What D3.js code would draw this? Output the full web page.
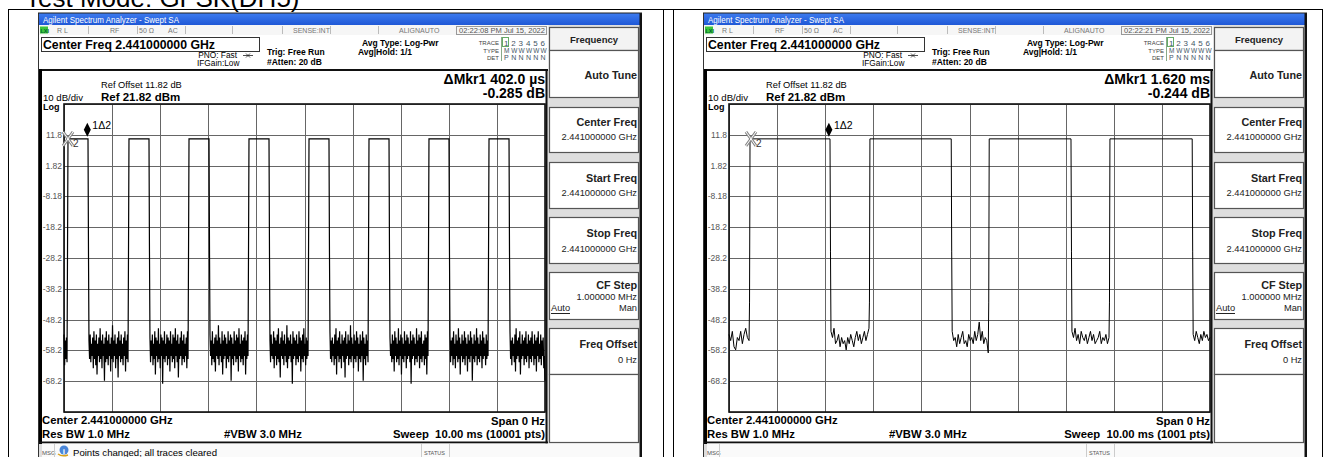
<!DOCTYPE html>
<html>
<head>
<meta charset="utf-8">
<script src="https://cdn.jsdelivr.net/npm/d3@7"></script>
<style>
body { margin: 0; background: #fff; }
svg { display: block; font-family: "Liberation Sans", Arial, sans-serif; }
</style>
</head>
<body>
<svg id="chart" width="1329" height="457"></svg>
<script>
var refLevel = 21.82, bottomLevel = -78.18
var sweepMs = [0, 10]
var xGridMs = [0, 1, 2, 3, 4, 5, 6, 7, 8, 9, 10]
var yGridDbm = [21.82, 11.82, 1.82, -8.18, -18.18, -28.18, -38.18, -48.18, -58.18, -68.18, -78.18]
var yTickValues = [11.82, 1.82, -8.18, -18.18, -28.18, -38.18, -48.18, -58.18, -68.18]
var yTickLabels = ["11.8", "1.82", "-8.18", "-18.2", "-28.2", "-38.2", "-48.2", "-58.2", "-68.2"]

// left screen: 10001 pts, DH5 short bursts
var leftPulseStart = [0.083, 1.351, 2.599, 3.846, 5.094, 6.341, 7.588, 8.836]
var leftPulseEnd   = [0.499, 1.767, 3.015, 4.262, 5.509, 6.757, 8.004, 9.252]
var leftHigh = 10.5
var leftRampUp = -26.2, leftRampDown = -26.2
var leftNoise = [
  [-53, -63, -55, -61, -54, -62],
  [-55, -61, -53, -62, -56, -60, -54, -64, -52, -61, -55, -63, -53, -66, -56, -60, -54, -62, -51, -61, -55, -64, -53, -60, -56, -68, -54, -62, -52, -61, -55, -63,
   -53, -60, -56, -65, -54, -61, -50, -62, -55, -60, -53, -64, -56, -61, -54, -67, -52, -60, -55, -62, -53, -61, -56, -63, -54, -60, -52, -65, -55, -61, -53, -62],
  [-54, -62, -55, -60, -53, -63, -56, -61, -52, -66, -54, -60, -55, -62, -51, -61, -56, -64, -53, -60, -54, -69, -55, -61, -52, -62, -56, -60, -53, -63, -54, -61,
   -55, -65, -52, -60, -56, -62, -53, -61, -54, -64, -51, -60, -55, -62, -53, -67, -56, -61, -54, -60, -52, -63, -55, -61, -53, -62, -56, -60, -54, -64, -52, -61],
  [-53, -60, -55, -63, -52, -61, -56, -62, -54, -65, -53, -60, -55, -61, -50, -63, -54, -60, -56, -62, -52, -66, -55, -61, -53, -60, -54, -64, -56, -61, -52, -62,
   -55, -60, -53, -68, -54, -61, -56, -63, -52, -60, -55, -62, -53, -61, -54, -65, -51, -60, -56, -62, -53, -61, -55, -63, -54, -60, -52, -66, -55, -61, -53, -60],
  [-55, -62, -53, -60, -56, -61, -52, -64, -54, -60, -55, -63, -53, -61, -51, -62, -56, -67, -54, -60, -52, -61, -55, -63, -53, -60, -56, -62, -50, -64, -54, -61,
   -55, -60, -53, -62, -56, -69, -52, -61, -54, -60, -55, -63, -53, -61, -56, -62, -52, -60, -54, -65, -55, -61, -53, -62, -51, -60, -56, -63, -54, -61, -55, -60],
  [-52, -61, -55, -62, -54, -60, -56, -63, -53, -61, -51, -66, -55, -60, -54, -62, -52, -61, -56, -64, -53, -60, -55, -62, -54, -67, -52, -61, -56, -60, -53, -63,
   -55, -61, -50, -62, -54, -60, -56, -64, -53, -61, -55, -62, -52, -60, -54, -65, -56, -61, -53, -62, -55, -60, -52, -68, -54, -61, -56, -63, -53, -60, -55, -62],
  [-54, -60, -56, -62, -53, -61, -55, -65, -52, -60, -54, -62, -56, -61, -51, -63, -55, -60, -53, -66, -54, -61, -56, -62, -52, -60, -55, -64, -53, -61, -54, -60,
   -56, -62, -52, -69, -55, -61, -53, -60, -54, -63, -56, -61, -51, -62, -55, -60, -53, -64, -54, -61, -52, -62, -56, -60, -55, -63, -53, -61, -54, -66, -52, -60],
  [-53, -62, -55, -60, -54, -63, -52, -61, -56, -64, -53, -60, -55, -62, -51, -61, -54, -66, -56, -60, -53, -62, -55, -61, -52, -63, -54, -60, -56, -65, -53, -61,
   -55, -62, -52, -60, -54, -68, -56, -61, -53, -62, -55, -60, -51, -63, -54, -61, -56, -62, -53, -60, -55, -64, -52, -61, -54, -60, -56, -63, -53, -61, -55, -60],
  [-52, -61, -55, -63, -54, -60, -56, -62, -53, -65, -51, -61, -55, -60, -54, -62, -52, -66, -56, -61, -53, -60, -55, -63, -54, -61, -52, -62, -56, -60,
   -53, -64, -55, -61, -54, -62, -52, -60, -56, -63, -53, -61, -55, -65, -54, -60, -52, -62, -56, -61, -53, -63, -55, -60, -54, -64, -60, -68]
]
var leftMarkerRef = 0.083, leftMarkerDelta = 0.485

// right screen: 1001 pts, long bursts
var rightPulseStart = [0.437, 2.93, 5.41, 7.92]
var rightPulseEnd   = [2.10, 4.62, 7.11, 9.63]
var rightHigh = 10.5
var rightRampUp = -42.5, rightRampDown = -26.2
var rightNoise = [
  [-53, -55, -52, -57, -58, -54, -55, -52, -56, -53, -51, -54, -55],
  [-52, -54, -51, -56, -55, -53, -57, -54, -56, -55, -58, -54, -56, -53, -55, -57, -54, -52, -55, -53, -56, -54, -52, -55, -53, -51],
  [-52, -55, -54, -57, -53, -56, -54, -52, -56, -55, -57, -53, -55, -54, -56, -52, -55, -53, -49, -55, -52, -56, -54, -55, -59],
  [-52, -54, -51, -55, -53, -56, -52, -54, -55, -53, -56, -54, -52, -55, -53, -56, -55, -54, -52, -56, -54, -55, -53, -56, -54],
  [-53, -55, -52, -54, -56, -53, -55, -52, -54, -53, -55, -54]
]
var rightMarkerRef = 0.457, rightMarkerDelta = 2.077

var screens = [
  { dx: 0, start: leftPulseStart, end: leftPulseEnd, high: leftHigh, up: leftRampUp, down: leftRampDown,
    noise: leftNoise, mRef: leftMarkerRef, mDelta: leftMarkerDelta, width: 1.2,
    time: "02:22:08 PM Jul 15, 2022", mkr: "\u0394Mkr1 402.0 \u00b5s", mkrDb: "-0.285 dB",
    sweep: "Sweep  10.00 ms (10001 pts)", msg: "Points changed; all traces cleared" },
  { dx: 665, start: rightPulseStart, end: rightPulseEnd, high: rightHigh, up: rightRampUp, down: rightRampDown,
    noise: rightNoise, mRef: rightMarkerRef, mDelta: rightMarkerDelta, width: 1,
    time: "02:22:21 PM Jul 15, 2022", mkr: "\u0394Mkr1 1.620 ms", mkrDb: "-0.244 dB",
    sweep: "Sweep  10.00 ms (1001 pts)", msg: "" }
]

var svg = d3.select("#chart")

// page heading (cut at the top) and table frame
svg.append("text").attr("x", 25).attr("y", 7).attr("font-size", 26).text("Test Mode: GFSK(DH5)")
svg.append("line").attr("x1", 8).attr("x2", 1322).attr("y1", 9.5).attr("y2", 9.5).attr("stroke", "#000")
var frameX = [8.5, 663.5, 673.5, 1322.5]
frameX.forEach(function(fx) {
  svg.append("line").attr("x1", fx).attr("x2", fx).attr("y1", 9).attr("y2", 457).attr("stroke", "#000")
})

var defs = svg.append("defs")
var grad = defs.append("linearGradient").attr("id", "titlebar").attr("x1", 0).attr("x2", 0).attr("y1", 0).attr("y2", 1)
grad.append("stop").attr("offset", "0%").attr("stop-color", "#3d7cf0")
grad.append("stop").attr("offset", "100%").attr("stop-color", "#1f58d6")

function txt(g, x, y, s, size, o) {
  o = o || {}
  var t = g.append("text").attr("x", x).attr("y", y).attr("font-size", size).text(s)
    .attr("fill", o.fill || "#000")
  if (o.bold) t.attr("font-weight", "bold")
  if (o.anchor) t.attr("text-anchor", o.anchor)
  if (o.len) t.attr("textLength", o.len).attr("lengthAdjust", "spacingAndGlyphs")
  return t
}

function buildTrace(s) {
  var pts = [], n = s.start.length, edge = 0.02
  for (var i = 0; i <= n; i++) {
    var g0 = i == 0 ? 0 : s.end[i - 1]
    var g1 = i == n ? 10 : s.start[i]
    if (i > 0) {
      pts.push([s.end[i - 1], s.high])
      pts.push([s.end[i - 1] + edge * 0.5, s.down])
    }
    var vals = s.noise[i]
    var a = i == 0 ? 0 : g0 + edge, b = i == n ? 10 : g1 - edge
    vals.forEach(function(v, k) {
      pts.push([a + (b - a) * k / (vals.length - 1), v])
    })
    if (i < n) {
      pts.push([s.start[i] - edge * 0.5, s.up])
      pts.push([s.start[i], s.high])
    }
  }
  return pts
}

function drawScreen(s) {
  var g = svg.append("g").attr("transform", "translate(" + s.dx + ",0)")

  // body, title bar
  g.append("rect").attr("x", 38).attr("y", 13).attr("width", 604).attr("height", 444).attr("fill", "#dedede")
  g.append("rect").attr("x", 38).attr("y", 13).attr("width", 604).attr("height", 12).attr("fill", "url(#titlebar)")
  txt(g, 43, 22.5, "Agilent Spectrum Analyzer - Swept SA", 8.5, { fill: "#fff", len: 136 })

  // status row
  g.append("rect").attr("x", 38.5).attr("y", 25).attr("width", 510).attr("height", 10).attr("fill", "#f6f6f6")
  g.append("rect").attr("x", 40).attr("y", 26.5).attr("width", 8).attr("height", 7).attr("fill", "#3cc43c")
  txt(g, 40.5, 32.5, "LXI", 5.5, { bold: true, fill: "#063" })
  var seps = [88, 137, 185, 232, 282, 330, 378, 456]
  seps.forEach(function(sx) {
    g.append("line").attr("x1", sx + 0.5).attr("x2", sx + 0.5).attr("y1", 26).attr("y2", 34).attr("stroke", "#bbb")
  })
  g.append("rect").attr("x", 456.5).attr("y", 26.5).attr("width", 90).attr("height", 8).attr("fill", "none").attr("stroke", "#999")
  var stat = [[57, "R L"], [110, "RF"], [139, "50 \u03a9"], [168, "AC"], [293, "SENSE:INT"], [399, "ALIGNAUTO"]]
  stat.forEach(function(d) { txt(g, d[0], 33, d[1], 7, { fill: "#777" }) })
  txt(g, 459, 33, s.time, 7, { fill: "#555", len: 86 })

  // header
  g.append("rect").attr("x", 38.5).attr("y", 35).attr("width", 510).attr("height", 35).attr("fill", "#fff")
  g.append("rect").attr("x", 41.5).attr("y", 37.5).attr("width", 218).attr("height", 14).attr("fill", "#fff").attr("stroke", "#333")
  txt(g, 43, 49, "Center Freq 2.441000000 GHz", 12.3, { bold: true, len: 172 })
  txt(g, 237, 58, "PNO: Fast", 8.3, { anchor: "end" })
  g.append("path").attr("d", "M243,55.5 L253,55.5 M246,53.5 L248,55.5 L246,57.5 M250,53.5 L248,55.5 L250,57.5").attr("stroke", "#222").attr("fill", "none").attr("stroke-width", 0.8)
  txt(g, 197, 66, "IFGain:Low", 8.3)
  txt(g, 267, 55, "Trig: Free Run", 8.5, { bold: true })
  txt(g, 267, 65, "#Atten: 20 dB", 8.5, { bold: true })
  txt(g, 362, 46, "Avg Type: Log-Pwr", 8.5, { bold: true })
  txt(g, 358, 55, "Avg|Hold: 1/1", 8.5, { bold: true })
  txt(g, 499, 45, "TRACE", 6, { anchor: "end", fill: "#444" })
  txt(g, 499, 53, "TYPE", 6, { anchor: "end", fill: "#444" })
  txt(g, 499, 60, "DET", 6, { anchor: "end", fill: "#444" })
  g.append("line").attr("x1", 501.5).attr("x2", 501.5).attr("y1", 37).attr("y2", 61).attr("stroke", "#8a8")
  g.append("rect").attr("x", 502.5).attr("y", 37.5).attr("width", 6).attr("height", 9).attr("fill", "none").attr("stroke", "#6a6")
  var traceNums = ["1", "2", "3", "4", "5", "6"], traceType = ["M", "W", "W", "W", "W", "W"], traceDet = ["P", "N", "N", "N", "N", "N"]
  traceNums.forEach(function(c, i) {
    txt(g, 504 + i * 7.3, 46, c, 8, { fill: "#456" })
    txt(g, 504 + i * 7.3, 53, traceType[i], 6.5, { fill: "#456" })
    txt(g, 504 + i * 7.3, 60, traceDet[i], 7, { fill: "#456" })
  })

  // soft keys
  var keys = [
    { y0: 27, y1: 50, title: "Frequency" },
    { y0: 50, y1: 97, label: "Auto Tune", ly: 79 },
    { y0: 107, y1: 152, label: "Center Freq", ly: 126, val: "2.441000000 GHz", vy: 140 },
    { y0: 162, y1: 208, label: "Start Freq", ly: 182, val: "2.441000000 GHz", vy: 196 },
    { y0: 217, y1: 263, label: "Stop Freq", ly: 237, val: "2.441000000 GHz", vy: 252 },
    { y0: 272, y1: 319, label: "CF Step", ly: 289, val: "1.000000 MHz", vy: 300, auto: 311 },
    { y0: 328, y1: 374, label: "Freq Offset", ly: 348, val: "0 Hz", vy: 363 },
    { y0: 374, y1: 442 }
  ]
  keys.forEach(function(k) {
    g.append("rect").attr("x", 549.5).attr("y", k.y0 + 0.5).attr("width", 89).attr("height", k.y1 - k.y0)
      .attr("fill", k.title ? "#f3f3f3" : "#fff").attr("stroke", "#555").attr("stroke-width", 1.2)
    if (k.title) txt(g, 594, 43, k.title, 9.5, { bold: true, anchor: "middle", fill: "#222" })
    if (k.label) txt(g, 637, k.ly, k.label, 10.8, { bold: true, anchor: "end", fill: "#222" })
    if (k.val) txt(g, 637, k.vy, k.val, 9.3, { anchor: "end", fill: "#222" })
    if (k.auto) {
      txt(g, 551, k.auto, "Auto", 9.3, { fill: "#222" })
      g.append("line").attr("x1", 551).attr("x2", 570).attr("y1", k.auto + 2.5).attr("y2", k.auto + 2.5).attr("stroke", "#222")
      txt(g, 637, k.auto, "Man", 9.3, { anchor: "end", fill: "#222" })
    }
  })

  // trace panel
  g.append("rect").attr("x", 38).attr("y", 70).attr("width", 509).attr("height", 372).attr("fill", "#fff")
  g.append("rect").attr("x", 38).attr("y", 69).attr("width", 510).attr("height", 2).attr("fill", "#111")
  g.append("rect").attr("x", 38).attr("y", 69).attr("width", 4).attr("height", 375).attr("fill", "#000")
  g.append("rect").attr("x", 545.5).attr("y", 69).attr("width", 2).attr("height", 375).attr("fill", "#111")
  g.append("rect").attr("x", 38).attr("y", 441.5).attr("width", 510).attr("height", 2).attr("fill", "#111")
  txt(g, 101, 88, "Ref Offset 11.82 dB", 9.3)
  txt(g, 101, 101, "Ref 21.82 dBm", 11.5, { bold: true })
  txt(g, 43, 101, "10 dB/div", 9.6)
  txt(g, 43, 110, "Log", 9, { bold: true })
  txt(g, 545, 84, s.mkr, 14, { bold: true, anchor: "end" })
  txt(g, 545, 97.5, s.mkrDb, 14, { bold: true, anchor: "end" })

  var x = d3.scaleLinear().domain(sweepMs).range([64, 545])
  var y = d3.scaleLinear().domain([bottomLevel, refLevel]).range([412, 104])

  var grid = g.append("g").attr("stroke", "#666").attr("stroke-width", 1)
  xGridMs.forEach(function(t) {
    grid.append("line").attr("x1", Math.round(x(t)) + 0.5).attr("x2", Math.round(x(t)) + 0.5)
      .attr("y1", y(refLevel)).attr("y2", y(bottomLevel))
  })
  yGridDbm.forEach(function(v) {
    grid.append("line").attr("x1", x(0)).attr("x2", x(10))
      .attr("y1", Math.round(y(v)) + 0.5).attr("y2", Math.round(y(v)) + 0.5)
  })
  g.append("rect").attr("x", x(0)).attr("y", y(refLevel)).attr("width", x(10) - x(0)).attr("height", y(bottomLevel) - y(refLevel))
    .attr("fill", "none").attr("stroke", "#111").attr("stroke-width", 1.6)

  yTickValues.forEach(function(v, i) {
    txt(g, 62, y(v) + 3, yTickLabels[i], 8.5, { anchor: "end", fill: "#555" })
  })

  var line = d3.line().x(function(d) { return x(d[0]) }).y(function(d) { return y(d[1]) })
  g.append("path").datum(buildTrace(s)).attr("d", line)
    .attr("fill", "none").attr("stroke", "#000").attr("stroke-width", s.width)

  // markers
  var rx = x(s.mRef), ry = y(s.high)
  var xPath = "M" + (rx - 5) + "," + (ry - 7) + "L" + (rx + 5) + "," + (ry + 7) + "M" + (rx + 5) + "," + (ry - 7) + "L" + (rx - 5) + "," + (ry + 7)
  g.append("path").attr("d", xPath).attr("stroke", "#888").attr("stroke-width", 3).attr("fill", "none")
  g.append("path").attr("d", xPath).attr("stroke", "#fff").attr("stroke-width", 1).attr("fill", "none")
  txt(g, rx + 5, ry + 8, "2", 10, { fill: "#333" })
  var mx = x(s.mDelta), my = y(s.high) - 2
  g.append("path").attr("d", "M" + mx + "," + (my - 14) + "L" + (mx + 3.5) + "," + (my - 7) + "L" + mx + "," + my + "L" + (mx - 3.5) + "," + (my - 7) + "Z")
    .attr("fill", "#000")
  txt(g, mx + 5, my - 8, "1\u03942", 10.5)

  // bottom annotations
  txt(g, 42, 424, "Center 2.441000000 GHz", 11.3, { bold: true })
  txt(g, 42, 437.5, "Res BW 1.0 MHz", 11.3, { bold: true })
  txt(g, 224, 437.5, "#VBW 3.0 MHz", 11.3, { bold: true })
  txt(g, 545, 425, "Span 0 Hz", 11.3, { bold: true, anchor: "end" })
  txt(g, 545, 438, s.sweep, 11.3, { bold: true, anchor: "end" }).attr("xml:space", "preserve")

  // message bar
  g.append("rect").attr("x", 42).attr("y", 443.5).attr("width", 598).attr("height", 14).attr("fill", "#fafafa")
  txt(g, 42, 455, "MSG", 6, { fill: "#555" })
  g.append("line").attr("x1", 54.5).attr("x2", 54.5).attr("y1", 444).attr("y2", 457).attr("stroke", "#ccc")
  if (s.msg) {
    g.append("circle").attr("cx", 64).attr("cy", 450).attr("r", 4.5).attr("fill", "#4a86d8")
    txt(g, 62.8, 453.5, "i", 8, { bold: true, fill: "#fff" })
    g.append("path").attr("d", "M58,454 Q62,457 68,455").attr("stroke", "#d9a21a").attr("fill", "none").attr("stroke-width", 1.5)
    txt(g, 73, 455.5, s.msg, 9.6)
  }
  g.append("line").attr("x1", 421.5).attr("x2", 421.5).attr("y1", 444).attr("y2", 457).attr("stroke", "#ccc")
  g.append("line").attr("x1", 449.5).attr("x2", 449.5).attr("y1", 444).attr("y2", 457).attr("stroke", "#ccc")
  txt(g, 424, 455, "STATUS", 5.5, { fill: "#555" })

  // screen outline
  g.append("rect").attr("x", 38).attr("y", 13).attr("width", 1).attr("height", 444).attr("fill", "#333")
  g.append("rect").attr("x", 639.5).attr("y", 13).attr("width", 2.5).attr("height", 444).attr("fill", "#111")
  g.append("rect").attr("x", 38).attr("y", 12.5).attr("width", 604).attr("height", 1).attr("fill", "#222")
}

screens.forEach(drawScreen)
</script>
</body>
</html>
